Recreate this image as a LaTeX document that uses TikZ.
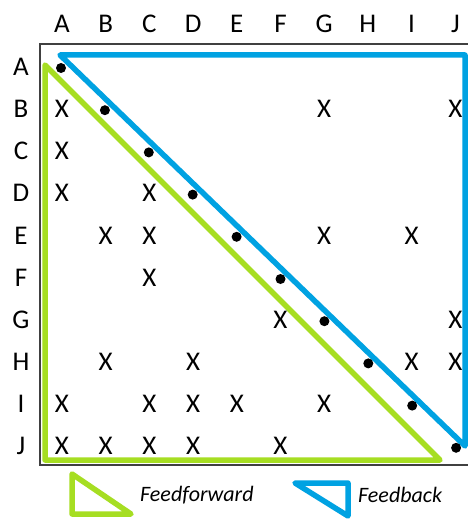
\documentclass[tikz,border=0pt]{standalone}
\usepackage{fontspec}
\setmainfont{Carlito}
\definecolor{ffgreen}{RGB}{166,222,34}
\definecolor{fbblue}{RGB}{0,162,226}
\definecolor{boxgray}{RGB}{64,64,64}
\tikzset{
  lab/.style={font=\fontsize{27}{27}\selectfont, inner sep=0pt},
  xmark/.style={font=\fontsize{27}{27}\selectfont, inner sep=0pt},
  dotmark/.style={circle, fill=black, inner sep=0pt, minimum size=10pt},
  ffline/.style={draw=ffgreen, line width=5.5pt, line join=round},
  fbline/.style={draw=fbblue, line width=5.5pt, line join=round},
  legtext/.style={font=\fontsize{22}{22}\selectfont\itshape, inner sep=0pt}
}
\begin{document}
\begin{tikzpicture}[x=1pt,y=-1pt]
\useasboundingbox (0,0) rectangle (467,519);
\fill[white] (0,0) rectangle (467,519);
% matrix box
\draw[boxgray, line width=1.5pt] (40,44) rectangle (480,465);
% column and row labels
\foreach \l [count=\i from 0] in {A,B,C,D,E,F,G,H,I,J} {
  \node[lab] (col\l) at ({62+43.7*\i},24) {\l};
  \node[lab] (row\l) at (21,{67+42.1*\i}) {\l};
}
% triangles
\draw[fbline] (60,55) -- (465,55) -- (465,446) -- cycle;
\draw[ffline] (45,65) -- (45,460) -- (440,460) -- cycle;
% diagonal dots
\foreach \l [count=\i from 0] in {A,B,C,D,E,F,G,H,I,J} {
  \node[dotmark] (dot\l) at ({61+43.9*\i},{68+42.2*\i}) {};
}
% X marks: row/col index pairs
\foreach \c/\r in {0/1,6/1,9/1, 0/2, 0/3,2/3, 1/4,2/4,6/4,8/4, 2/5, 5/6,9/6,
                   1/7,3/7,8/7,9/7, 0/8,2/8,3/8,4/8,6/8, 0/9,1/9,2/9,3/9,5/9} {
  \node[xmark] (x\c-\r) at ({62+43.7*\c},{67+42.1*\r}) {X};
}
% legend
\draw[ffline] (72,474) -- (72,514) -- (131,514) -- cycle;
\node[legtext, anchor=west] (fflabel) at (140,495) {Feedforward};
\draw[fbline] (295,483) -- (348,483) -- (348,516) -- cycle;
\node[legtext, anchor=west] (fblabel) at (358,495) {Feedback};
\end{tikzpicture}
\end{document}
